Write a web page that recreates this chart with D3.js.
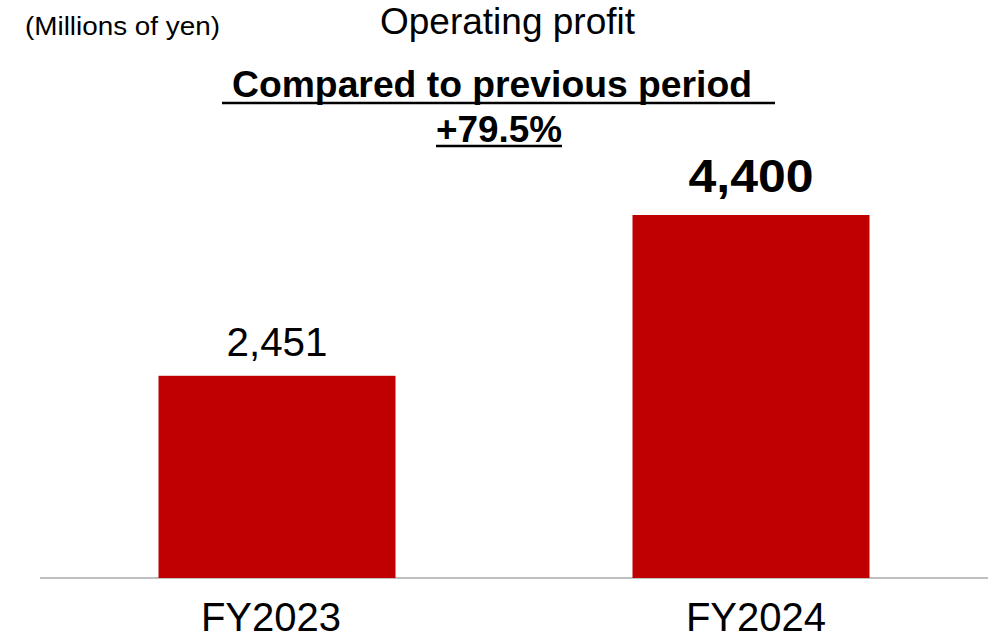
<!DOCTYPE html>
<html>
<head>
<meta charset="utf-8">
<script src="https://cdn.jsdelivr.net/npm/d3@7"></script>
<style>
  html, body { margin: 0; padding: 0; background: #fff; }
  svg { display: block; font-family: Arial, "Liberation Sans", sans-serif; }
</style>
</head>
<body>
<svg id="chart" width="992" height="634"></svg>
<script>
const categories = ["FY2023", "FY2024"];
const values = [2451, 4400];
const valueLabels = ["2,451", "4,400"];
const unitLabel = "(Millions of yen)";
const titleText = "Operating profit";
const compareLine1 = "Compared to previous period";
const compareLine2 = "+79.5%";

const svg = d3.select("#chart");
const W = 992, H = 634;
const baseY = 578;

const x = d3.scaleBand().domain(categories).range([40, 988]).paddingInner(0.5).paddingOuter(0.25);
const y = d3.scaleLinear().domain([0, 4400]).range([baseY, 215]);

// axis baseline
svg.append("line").attr("x1", 40).attr("x2", 988).attr("y1", baseY).attr("y2", baseY)
  .attr("stroke", "#bfbfbf").attr("stroke-width", 2);

// bars
svg.selectAll("rect.bar").data(values).join("rect")
  .attr("class", "bar")
  .attr("x", (d, i) => x(categories[i]))
  .attr("width", x.bandwidth())
  .attr("y", d => y(d))
  .attr("height", d => baseY - y(d))
  .attr("fill", "#c00000");

// value labels
svg.selectAll("text.val").data(values).join("text")
  .attr("class", "val")
  .attr("x", (d, i) => x(categories[i]) + x.bandwidth() / 2)
  .attr("y", (d, i) => i === 1 ? y(d) - 23 : y(d) - 20)
  .attr("text-anchor", "middle")
  .attr("font-size", (d, i) => i === 1 ? 46 : 41)
  .attr("font-weight", (d, i) => i === 1 ? "bold" : "normal")
  .attr("textLength", (d, i) => i === 1 ? 125 : 101)
  .attr("lengthAdjust", "spacingAndGlyphs")
  .attr("fill", "#000")
  .text((d, i) => valueLabels[i]);

// category labels
svg.selectAll("text.cat").data(categories).join("text")
  .attr("class", "cat")
  .attr("x", d => x(d) + x.bandwidth() / 2 + (d === "FY2023" ? -6 : 5))
  .attr("y", 631)
  .attr("text-anchor", "middle")
  .attr("font-size", 40)
  .attr("fill", "#000")
  .text(d => d);

// unit
svg.append("text").attr("x", 25).attr("y", 35).attr("font-size", 26)
  .attr("textLength", 195).attr("lengthAdjust", "spacingAndGlyphs")
  .text(unitLabel);

// title
svg.append("text").attr("x", 507.5).attr("y", 34).attr("font-size", 36)
  .attr("text-anchor", "middle")
  .attr("textLength", 255).attr("lengthAdjust", "spacingAndGlyphs")
  .text(titleText);

// comparison
svg.append("text").attr("x", 492).attr("y", 97).attr("font-size", 37).attr("font-weight", "bold")
  .attr("text-anchor", "middle")
  .attr("textLength", 520).attr("lengthAdjust", "spacingAndGlyphs")
  .text(compareLine1);
svg.append("line").attr("x1", 222).attr("x2", 775).attr("y1", 103).attr("y2", 103)
  .attr("stroke", "#000").attr("stroke-width", 2.5);

svg.append("text").attr("x", 499).attr("y", 141.5).attr("font-size", 37).attr("font-weight", "bold")
  .attr("text-anchor", "middle")
  .attr("textLength", 126).attr("lengthAdjust", "spacingAndGlyphs")
  .text(compareLine2);
svg.append("line").attr("x1", 436).attr("x2", 562).attr("y1", 146).attr("y2", 146)
  .attr("stroke", "#000").attr("stroke-width", 2.5);
</script>
</body>
</html>
